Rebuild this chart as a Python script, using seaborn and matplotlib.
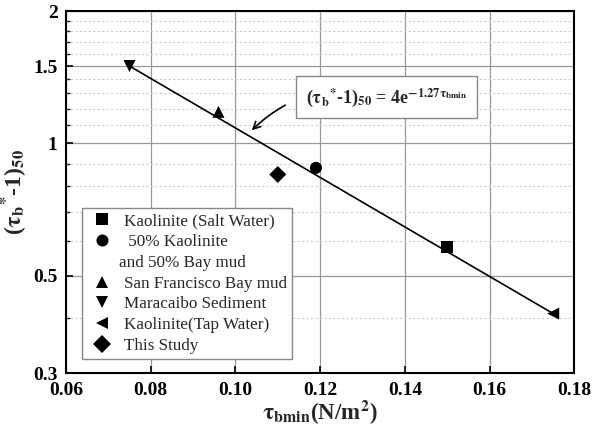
import numpy as np
import pandas as pd
import matplotlib
matplotlib.use('Agg')
import matplotlib.pyplot as plt
import seaborn as sns
from matplotlib.lines import Line2D
from matplotlib.ticker import FixedLocator, NullFormatter, NullLocator

# data
groups = ['Kaolinite (Salt Water)', ' 50% Kaolinite', 'San Francisco Bay mud',
          'Maracaibo Sediment', 'Kaolinite(Tap Water)', 'This Study']
tau_bmin = [0.150, 0.119, 0.096, 0.075, 0.175, 0.110]
tau_star = [0.58, 0.88, 1.18, 1.50, 0.41, 0.85]
marker_shapes = ['s', 'o', '^', 'v', '<', 'D']

# fitted line endpoints
fit_x = [0.075, 0.175]
fit_y = [1.50, 0.41]

df = pd.DataFrame({'x': tau_bmin, 'y': tau_star, 'group': groups})
fit = pd.DataFrame({'x': fit_x, 'y': fit_y})

sns.set_theme(style='white')
plt.rcParams['font.family'] = ['Liberation Serif', 'DejaVu Serif']
plt.rcParams['mathtext.fontset'] = 'stix'

fig, ax = plt.subplots(figsize=(5.94, 4.29), dpi=100)
fig.subplots_adjust(left=0.111, right=0.967, top=0.974, bottom=0.13)

sns.lineplot(data=fit, x='x', y='y', ax=ax, color='black', lw=1.2, legend=False)
sns.scatterplot(data=df, x='x', y='y', style='group', hue='group',
                palette=['black'] * 6, markers=dict(zip(groups, marker_shapes)),
                s=75, edgecolor='black', linewidth=0, ax=ax, zorder=5)

ax.set_yscale('log')
ax.set_xlim(0.06, 0.18)
ax.set_ylim(0.3, 2)
ax.set_xticks([0.06, 0.08, 0.10, 0.12, 0.14, 0.16, 0.18])
ax.set_xticklabels(['0.06', '0.08', '0.10', '0.12', '0.14', '0.16', '0.18'])
ax.xaxis.set_minor_locator(NullLocator())
ax.yaxis.set_major_locator(FixedLocator([0.3, 0.5, 1, 1.5, 2]))
ax.set_yticklabels(['0.3', '0.5', '1', '1.5', '2'])
ax.yaxis.set_minor_locator(FixedLocator([0.4, 0.6, 0.7, 0.8, 0.9, 1.1, 1.2, 1.3, 1.4,
                                         1.6, 1.7, 1.8, 1.9]))
ax.yaxis.set_minor_formatter(NullFormatter())

ax.grid(which='major', color='#999999', lw=0.9, ls='-')
ax.grid(which='minor', axis='y', color='#cccccc', lw=0.8, ls=(0, (2, 2)))
ax.set_axisbelow(True)

for s in ax.spines.values():
    s.set_color('black')
    s.set_linewidth(1.5)
ax.tick_params(which='major', direction='in', length=5, width=1.2, left=True, bottom=True,
               labelsize=14, colors='black', pad=6)
ax.tick_params(which='minor', direction='in', length=3, width=1.0, left=True)
for lab in ax.get_xticklabels() + ax.get_yticklabels():
    lab.set_fontweight('bold')

ax.set_xlabel(r'$\mathbf{\tau_{bmin}}$(N/m$^\mathbf{2}$)', fontsize=16.5,
              fontweight='bold', labelpad=0)
ax.set_ylabel(r'($\mathbf{\tau_b}^\mathbf{*}$-1)$_\mathbf{50}$', fontsize=17,
              fontweight='bold', labelpad=4)

ax.annotate(r'($\mathbf{\tau_b}^{\mathbf{*}}$-1)$_\mathbf{50}$ = 4e$^{\mathbf{-1.27\tau_{bmin}}}$',
            xy=(0.1034, 1.06), xytext=(0.1356, 1.274),
            ha='center', va='center', fontsize=13, fontweight='bold',
            bbox=dict(boxstyle='square,pad=0.55', fc='white', ec='#888888', lw=1),
            arrowprops=dict(arrowstyle='->', color='black', lw=1.2, shrinkA=8,
                            connectionstyle='arc3,rad=0.3'), zorder=6)

handles, labels = ax.get_legend_handles_labels()
handles.insert(2, Line2D([], [], ls='none', marker=None))
labels.insert(2, 'and 50% Bay mud')
leg = ax.legend(handles, labels, loc='upper left', bbox_to_anchor=(0.031, 0.456),
                borderaxespad=0, fontsize=12.3,
                frameon=True, fancybox=False, edgecolor='#888888', framealpha=1,
                handletextpad=0.37, borderpad=0.3, labelspacing=0.28, handlelength=1.8)
leg.get_frame().set_linewidth(1)
leg.get_texts()[2].set_x(-5)

fig.savefig('out.png', dpi=100)
